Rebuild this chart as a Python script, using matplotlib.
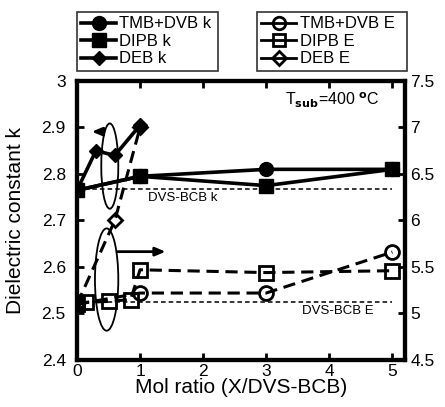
import matplotlib
matplotlib.use("Agg")
import matplotlib.pyplot as plt
from matplotlib.lines import Line2D
from matplotlib.patches import Ellipse

plt.rcParams['font.family'] = ['Liberation Sans', 'DejaVu Sans']

# ---- data ----
tmb_x = [0, 1, 3, 5]
tmb_k = [2.765, 2.795, 2.81, 2.81]
dipb_x = [0, 1, 3, 5]
dipb_k = [2.765, 2.795, 2.775, 2.81]
deb_x = [0, 0.3, 0.6, 1]
deb_k = [2.765, 2.85, 2.84, 2.905]

tmb_ex = [0, 1, 3, 5]
tmb_e = [5.1, 5.22, 5.22, 5.66]
dipb_ex = [0, 0.15, 0.5, 0.85, 1, 3, 5]
dipb_e = [5.1, 5.12, 5.13, 5.15, 5.47, 5.44, 5.46]
deb_ex = [0, 0.6, 1]
deb_e = [5.1, 6.0, 7.0]

ref_k = 2.768
ref_e = 5.12

xticks = [0, 1, 2, 3, 4, 5]
kticks = [2.4, 2.5, 2.6, 2.7, 2.8, 2.9, 3]
kticklabels = ['2.4', '2.5', '2.6', '2.7', '2.8', '2.9', '3']
eticks = [4.5, 5, 5.5, 6, 6.5, 7, 7.5]
eticklabels = ['4.5', '5', '5.5', '6', '6.5', '7', '7.5']

fig = plt.figure(figsize=(4.45, 4.07), dpi=100)
ax = fig.add_axes([0.173, 0.1155, 0.737, 0.6855])
ax2 = ax.twinx()

lw = 2.6
ms = 10
dash = (4, 2.2)

ax.plot(tmb_x, tmb_k, '-', color='black', lw=lw, marker='o', ms=ms, zorder=5)
ax.plot(dipb_x, dipb_k, '-', color='black', lw=lw, marker='s', ms=ms, zorder=5)
ax.plot(deb_x, deb_k, '-', color='black', lw=lw, marker='D', ms=7.5, zorder=5)

ax.plot([0, 5], [ref_k, ref_k], ls=(0, (3, 2)), color='black', lw=1.1)
ax.text(1.12, 2.748, 'DVS-BCB k', fontsize=9.5, va='center', ha='left')

ax2.plot(tmb_ex, tmb_e, color='black', lw=2.2, ls=(0, dash), marker='o',
         ms=ms, mfc='none', mec='black', mew=2)
ax2.plot(dipb_ex, dipb_e, color='black', lw=2.2, ls=(0, dash), marker='s',
         ms=ms, mfc='none', mec='black', mew=2)
ax2.plot(deb_ex, deb_e, color='black', lw=2.2, ls=(0, dash), marker='D',
         ms=7.5, mfc='none', mec='black', mew=2)
ax2.plot([0, 5], [ref_e, ref_e], ls=(0, (3, 2)), color='black', lw=1.1)
ax2.text(3.56, 5.03, 'DVS-BCB E', fontsize=9.5, va='center', ha='left')

# annotations: ellipses and arrows
ax.add_patch(Ellipse((0.52, 2.817), 0.27, 0.1835, fill=False, lw=1.3, ec='black', zorder=6))
ax.add_patch(Ellipse((0.47, 2.573), 0.37, 0.22, fill=False, lw=1.3, ec='black', zorder=6))
ax.annotate('', xy=(0.19, 2.891), xytext=(0.41, 2.891),
            arrowprops=dict(arrowstyle='-|>,head_length=0.6,head_width=0.25', lw=2, color='black'), zorder=7)
ax.annotate('', xy=(1.45, 2.633), xytext=(0.60, 2.633),
            arrowprops=dict(arrowstyle='-|>,head_length=0.6,head_width=0.25', lw=2, color='black'), zorder=7)

ax.text(3.3, 2.958, r'T$_{\mathbf{sub}}$=400 $^{\mathbf{o}}$C', fontsize=11.5, va='center', ha='left')

ax.set_xlim(0, 5.2)
ax.set_ylim(2.4, 3.0)
ax2.set_ylim(4.5, 7.5)
ax.set_xticks(xticks)
ax.set_xticklabels([str(v) for v in xticks])
ax.set_yticks(kticks)
ax.set_yticklabels(kticklabels)
ax2.set_yticks(eticks)
ax2.set_yticklabels(eticklabels)

for a in (ax, ax2):
    for s in a.spines.values():
        s.set_linewidth(3)
ax.tick_params(axis='both', direction='in', length=5, width=2, labelsize=12.5, pad=3)
ax.tick_params(axis='y', pad=8)
ax.tick_params(axis='x', top=True, labeltop=False)
ax2.tick_params(axis='y', direction='in', length=5, width=2, labelsize=12.5, pad=4)

ax.set_xlabel('Mol ratio (X/DVS-BCB)', fontsize=15, labelpad=-1)
ax.set_ylabel('Dielectric constant k', fontsize=15, labelpad=12)

# legends
h1 = [Line2D([], [], color='black', lw=lw, marker='o', ms=ms),
      Line2D([], [], color='black', lw=lw, marker='s', ms=ms),
      Line2D([], [], color='black', lw=lw, marker='D', ms=7.5)]
l1 = ['TMB+DVB k', 'DIPB k', 'DEB k']
h2 = [Line2D([], [], color='black', lw=2, marker='o', ms=ms-1, mfc='none', mew=2),
      Line2D([], [], color='black', lw=2, marker='s', ms=ms-1, mfc='none', mew=2),
      Line2D([], [], color='black', lw=2, marker='D', ms=7, mfc='none', mew=2)]
l2 = ['TMB+DVB E', 'DIPB E', 'DEB E']

kw = dict(fontsize=12, frameon=True, fancybox=False, handlelength=2.1,
          handletextpad=0.2, labelspacing=0.15, borderpad=0.25,
          borderaxespad=0, loc='upper left', mode='expand')
leg1 = fig.legend(h1, l1, bbox_to_anchor=(0.173, 0.815, 0.317, 0.155), **kw)
leg2 = fig.legend(h2, l2, bbox_to_anchor=(0.578, 0.815, 0.337, 0.155), **kw)
for lg in (leg1, leg2):
    lg.get_frame().set_edgecolor('black')
    lg.get_frame().set_linewidth(1.2)

fig.savefig('out.png', dpi=100)
